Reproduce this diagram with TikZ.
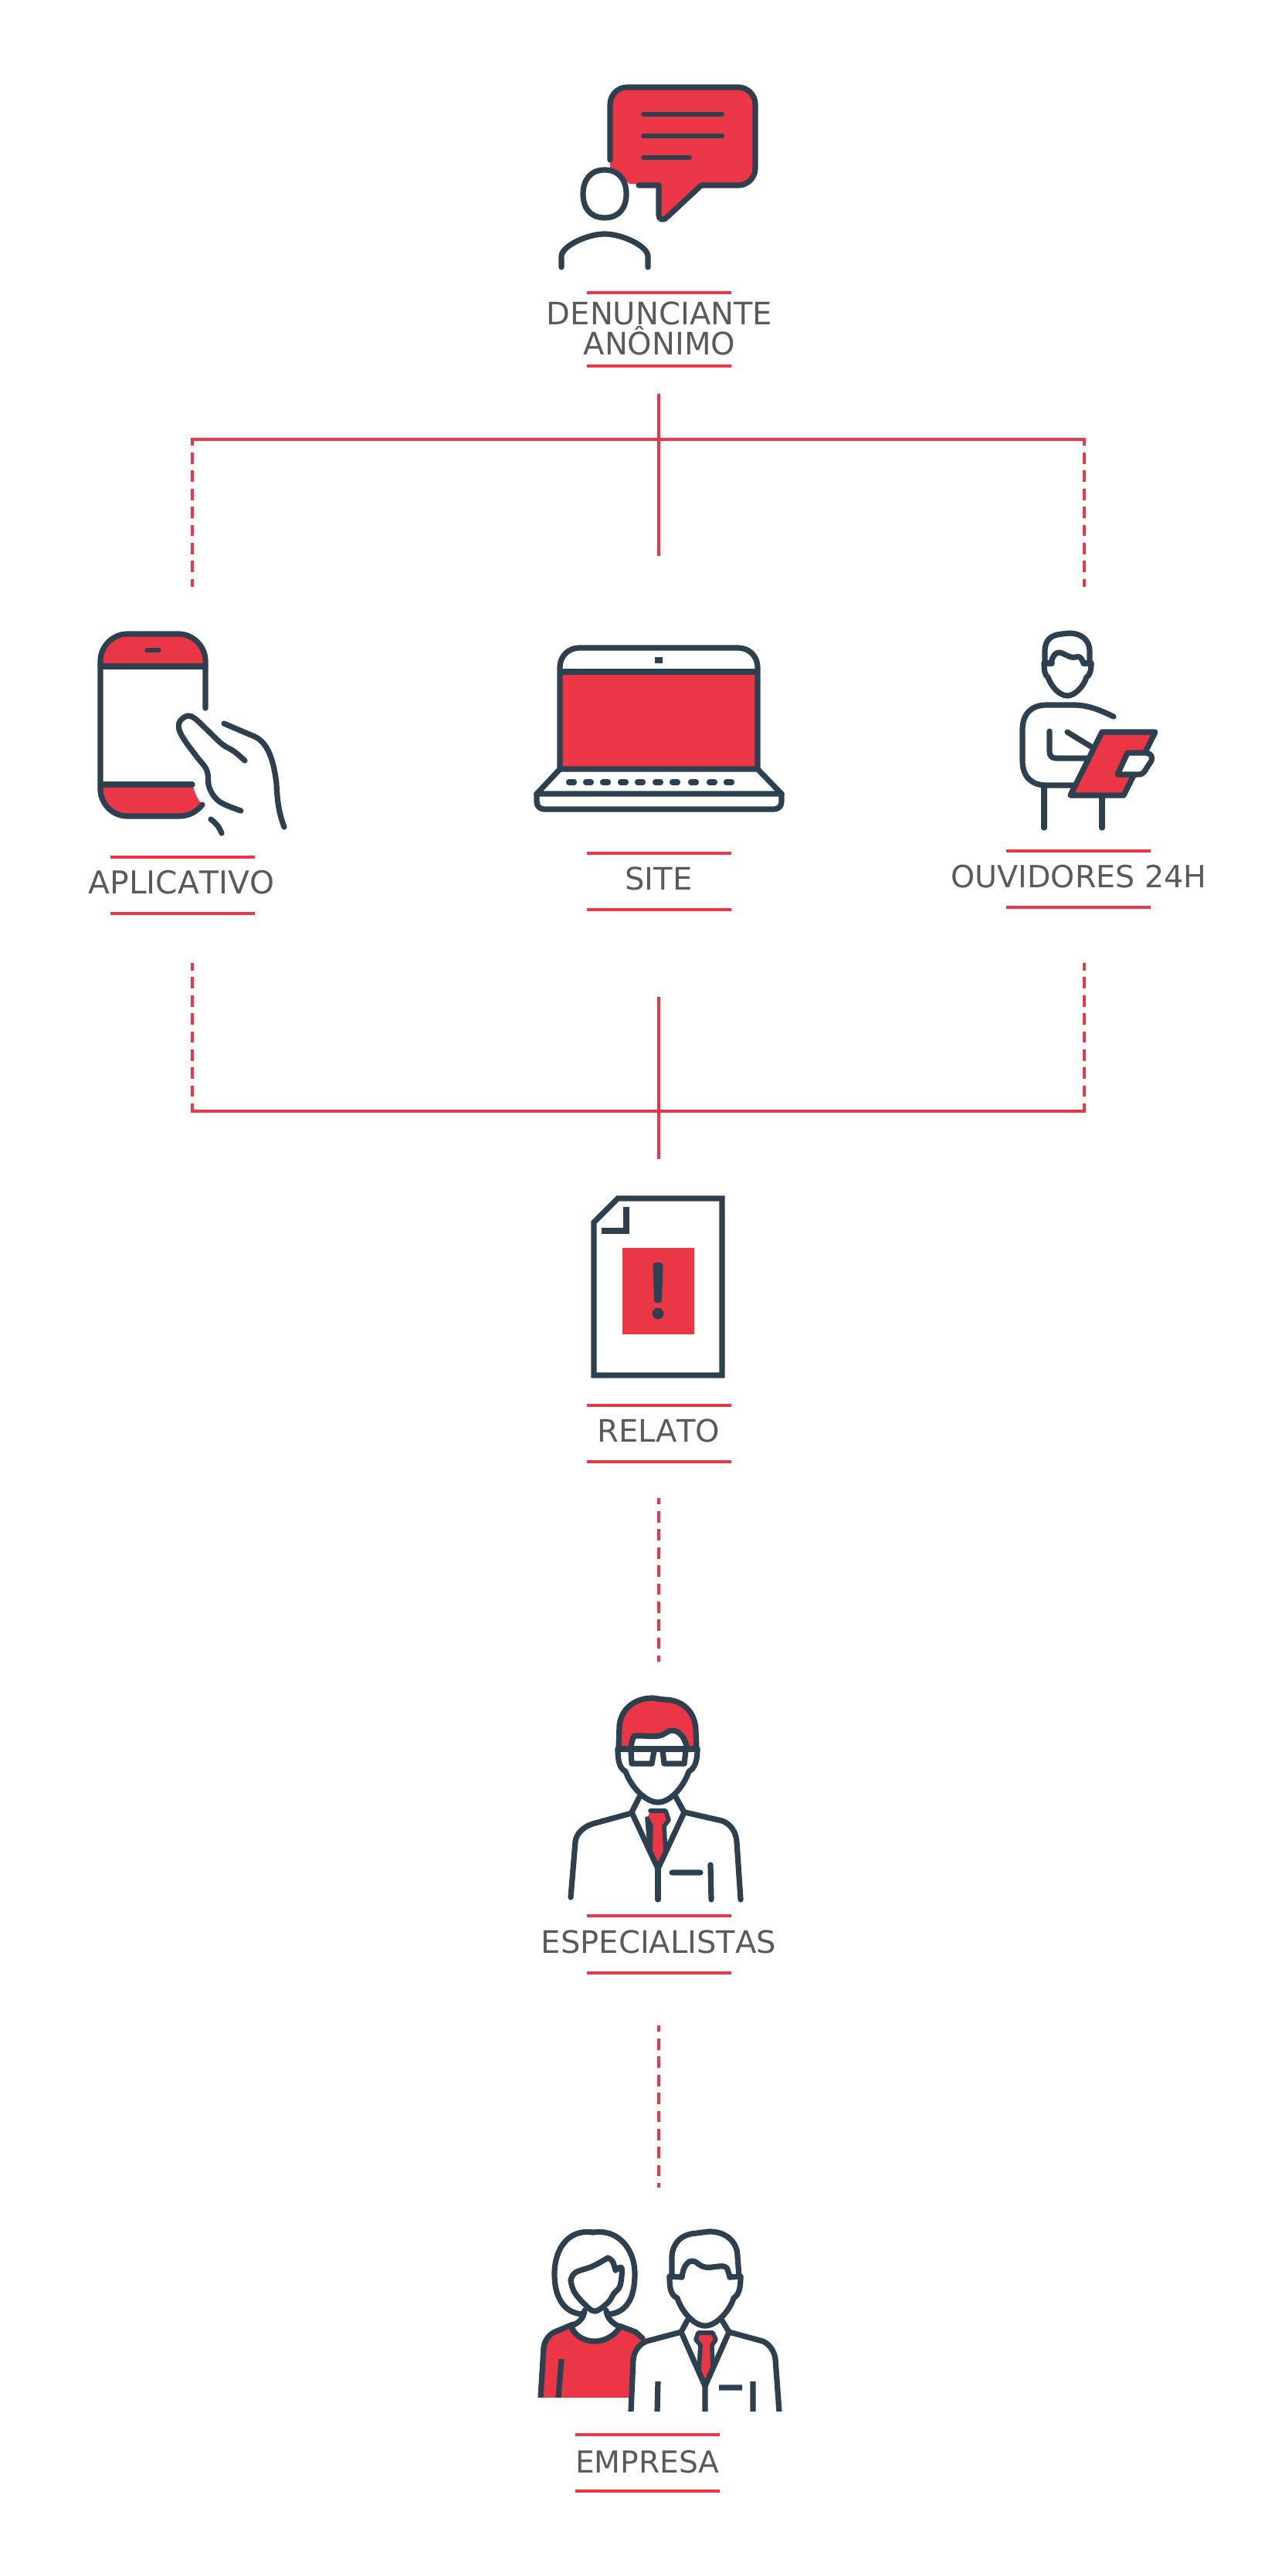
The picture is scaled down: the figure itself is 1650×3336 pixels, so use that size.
\documentclass[tikz,border=0pt]{standalone}
\usepackage{fontspec}
\setmainfont[Kerning=Off]{DejaVu Sans}
\usepackage{tikz}
\definecolor{IconRed}{RGB}{235,55,69}
\definecolor{IconNavy}{RGB}{45,64,80}
\definecolor{FontGray}{RGB}{90,90,90}
\tikzset{
    IconLine/.style={draw=IconNavy,line width=4.1pt,line cap=round,line join=round},
    IconFill/.style={fill=IconRed,draw=none},
    WhiteFill/.style={fill=white,draw=none},
    RuleLine/.style={draw=IconRed,line width=2.3pt},
    BusLine/.style={draw=IconRed,line width=2.3pt},
    BusDash/.style={draw=IconRed,line width=2.3pt,dash pattern=on 8.4pt off 4.9pt,dash phase=3.6pt},
    LabelText/.style={text=FontGray,font=\fontsize{22.8}{22.1}\selectfont,inner sep=0pt,anchor=base,align=center}
}

\begin{document}
\begin{tikzpicture}[x=0.02cm,y=-0.02cm]
    \useasboundingbox (0,0) rectangle (1650,3336);

    % labels
    \node[LabelText] (lblDenunciante) at (854,459) {DENUNCIANTE\\ANÔNIMO};
    \node[LabelText,font=\fontsize{23.2}{22.1}\selectfont] (lblAplicativo) at (235,1157) {APLICATIVO};
    \node[LabelText] (lblSite) at (853,1152) {SITE};
    \node[LabelText,font=\fontsize{22.5}{22.1}\selectfont] (lblOuvidores) at (1397,1149) {OUVIDORES 24H};
    \node[LabelText] (lblRelato) at (853,1867) {RELATO};
    \node[LabelText] (lblEspecialistas) at (853,2529) {ESPECIALISTAS};
    \node[LabelText,font=\fontsize{22.3}{22.1}\selectfont] (lblEmpresa) at (838,3202) {EMPRESA};

    \foreach \cx/\ya/\yb in {853/379/474,236/1110/1183,853/1105/1178,1396/1102/1175,853/1820/1893,853/2481/2555,838/3153/3226}
        \draw[RuleLine] (\cx-93.5,\ya) -- (\cx+93.5,\ya) (\cx-93.5,\yb) -- (\cx+93.5,\yb);

    % connectors
    \coordinate (topIn) at (853,510);
    \coordinate (topOut) at (853,720);
    \coordinate (topLeft) at (249,569);
    \coordinate (topRight) at (1404,569);
    \coordinate (appIn) at (249,760);
    \coordinate (ouvIn) at (1404,760);
    \coordinate (appOut) at (249,1247);
    \coordinate (ouvOut) at (1404,1247);
    \coordinate (lowLeft) at (249,1439);
    \coordinate (lowRight) at (1404,1439);
    \coordinate (siteOut) at (853,1291);
    \coordinate (relIn) at (853,1501);
    \coordinate (relOut) at (853,1940);
    \coordinate (espIn) at (853,2152);
    \coordinate (espOut) at (853,2623);
    \coordinate (empIn) at (853,2833);

    \draw[BusLine] (topIn) to (topOut);
    \draw[BusLine,line cap=rect] (topLeft) to (topRight);
    \draw[BusDash] (topLeft) to (appIn);
    \draw[BusDash] (topRight) to (ouvIn);
    \draw[BusDash,dash phase=2.8pt] (appOut) to (lowLeft);
    \draw[BusDash,dash phase=2.8pt] (ouvOut) to (lowRight);
    \draw[BusLine,line cap=rect] (lowLeft) to (lowRight);
    \draw[BusLine] (siteOut) to (relIn);
    \draw[BusDash] (relOut) to (espIn);
    \draw[BusDash] (espOut) to (empIn);

    % denunciante
    \fill[IconFill] (790,217) -- (790,135) .. controls (790,123) and (800,113) .. (812,113) -- (956,113) .. controls (968,113) and (978,123) .. (978,135) -- (978,218) .. controls (978,230) and (968,240) .. (956,240) -- (908,240) -- (858,285) -- (853,280) -- (853,240) -- (815,238) -- cycle;
    \draw[IconLine] (790,207) -- (790,135) .. controls (790,123) and (800,113) .. (812,113) -- (956,113) .. controls (968,113) and (978,123) .. (978,135) -- (978,218) .. controls (978,230) and (968,240) .. (956,240) -- (908,240) -- (864,281) .. controls (858,287) and (853,284) .. (853,278) -- (853,240) -- (827,240);
    \draw[IconLine,line width=3.4pt] (833,148) -- (935,148) (833,176) -- (935,176) (833,204) -- (893,204);
    \filldraw[IconLine,fill=white] (783,220) .. controls (764,220) and (755,234) .. (755,251) .. controls (755,269) and (764,282) .. (783,282) .. controls (802,282) and (811,269) .. (811,251) .. controls (811,234) and (802,220) .. (783,220) -- cycle;
    \draw[IconLine] (727,346) -- (727,332) .. controls (727,319) and (760,303) .. (783,303) .. controls (806,303) and (839,319) .. (839,332) -- (839,346);

    % aplicativo
    \fill[IconFill] (130,863) -- (130,856) .. controls (130,837) and (146,821) .. (165,821) -- (231,821) .. controls (250,821) and (266,837) .. (266,856) -- (266,863) -- cycle;
    \fill[IconFill] (130,1016) -- (130,1022) .. controls (130,1041) and (146,1057) .. (165,1057) -- (231,1057) .. controls (245,1057) and (255,1051) .. (262,1042) .. controls (255,1035) and (252,1025) .. (249,1016) -- cycle;
    \draw[IconLine] (266,917) -- (266,856) .. controls (266,837) and (250,821) .. (231,821) -- (165,821) .. controls (146,821) and (130,837) .. (130,856) -- (130,1022) .. controls (130,1041) and (146,1057) .. (165,1057) -- (231,1057) .. controls (245,1057) and (255,1051) .. (262,1042);
    \draw[IconLine] (130,863) -- (266,863) (130,1016) -- (249,1016);
    \draw[IconLine,line width=3pt] (190,842) -- (206,842);
    \draw[IconLine] plot[smooth,tension=0.6] coordinates {(317,985) (303,973) (288,964) (270,947) (253,931) (243,927) (233,934) (232,945) (240,960) (254,979) (268,998) (271,1020) (284,1038) (312,1050)};
    \draw[IconLine] (290,937) -- (330,954) .. controls (345,961) and (354,980) .. (358,1015) .. controls (359,1040) and (362,1055) .. (368,1071);
    \draw[IconLine] (273,1061) .. controls (279,1065) and (284,1071) .. (287,1079);

    % site
    \fill[IconFill] (725,870) rectangle (981,996);
    \draw[IconLine,line cap=butt] (725,996) -- (725,864) .. controls (725,850) and (736,839) .. (750,839) -- (956,839) .. controls (970,839) and (981,850) .. (981,864) -- (981,996) -- cycle;
    \draw[IconLine,line cap=butt] (725,870) -- (981,870);
    \fill[IconNavy] (848,851) rectangle (858,859);
    \draw[IconLine] (725,996) -- (695,1028) -- (1012,1028) -- (981,996);
    \draw[IconLine] (695,1028) -- (695,1038) .. controls (695,1044) and (699,1048) .. (705,1048) -- (1002,1048) .. controls (1008,1048) and (1012,1044) .. (1012,1038) -- (1012,1028);
    \foreach \kx in {740,762,784,807,829,852,874,898,922,944}
        \draw[IconLine] (\kx-3.5,1013) -- (\kx+3.5,1013);

    % ouvidores
    \draw[IconLine] (1353,858) -- (1353,843) .. controls (1353,828) and (1362,822) .. (1375,821) -- (1385,820) .. controls (1400,820) and (1411,829) .. (1411,843) -- (1411,858);
    \draw[IconLine] plot[smooth,tension=0.7] coordinates {(1362,859) (1363,852) (1371,845) (1387,851) (1398,851) (1403,859)};
    \draw[IconLine] (1352,859) -- (1362,859) (1403,859) -- (1413,859);
    \draw[IconLine] (1352,859) .. controls (1352,868) and (1353,875) .. (1357,877) .. controls (1361,889) and (1372,901) .. (1382,901) .. controls (1392,901) and (1403,889) .. (1407,877) .. controls (1411,875) and (1413,868) .. (1413,859);
    \draw[IconLine] (1442,928) .. controls (1425,920) and (1410,913) .. (1390,913) -- (1355,913) .. controls (1335,913) and (1324,925) .. (1324,945) -- (1324,985) .. controls (1324,1005) and (1335,1017) .. (1355,1017) -- (1390,1017);
    \draw[IconLine] (1352,1017) -- (1352,1072) (1427,1030) -- (1427,1072);
    \draw[IconLine] (1359,947) -- (1359,973) .. controls (1359,979) and (1362,982) .. (1368,982) -- (1410,982) (1382,948) -- (1413,967);
    \filldraw[IconLine,fill=IconRed] (1427,948) -- (1496,948) -- (1455,1030) -- (1386,1030) -- cycle;
    \filldraw[IconLine,fill=white] (1460,975) -- (1483,975) .. controls (1490,975) and (1493,980) .. (1491,985) -- (1482,999) .. controls (1480,1002) and (1477,1003) .. (1473,1003) -- (1447,1003) -- cycle;

    % relato
    \draw[IconLine,line cap=butt,line join=miter] (769,1583) -- (800,1552) -- (935,1552) -- (935,1781) -- (769,1781) -- cycle;
    \draw[IconLine,line cap=butt,line join=miter] (811,1563) -- (811,1594) -- (779,1594);
    \fill[IconFill] (806,1616) rectangle (899,1728);
    \fill[IconNavy] (845.5,1639) .. controls (845.5,1637) and (847,1635) .. (849,1635) -- (855,1635) .. controls (857,1635) and (858.5,1637) .. (858.5,1639) -- (857,1684) .. controls (857,1686) and (856,1687) .. (854,1687) -- (850,1687) .. controls (848,1687) and (847,1686) .. (847,1684) -- cycle;
    \fill[IconNavy] (852,1701) circle (7.4);

    % especialistas
    \fill[IconFill] (801,2265) -- (802,2235) .. controls (804,2213) and (822,2199) .. (845,2199) -- (860,2201) .. controls (885,2201) and (900,2218) .. (901,2240) -- (902,2265) -- plot[smooth,tension=0.7] coordinates {(890,2264) (883,2248) (870,2241) (853,2248) (827,2248) (820,2250) (817,2264)} -- cycle;
    \draw[IconLine] (801,2265) -- (802,2235) .. controls (804,2213) and (822,2199) .. (845,2199) -- (860,2201) .. controls (885,2201) and (900,2218) .. (901,2240) -- (902,2265);
    \draw[IconLine] plot[smooth,tension=0.7] coordinates {(817,2264) (820,2250) (827,2248) (853,2248) (870,2241) (883,2248) (890,2264)};
    \draw[IconLine] (800,2265) -- (903,2265);
    \draw[IconLine] (817,2267) -- (818,2284) -- (844,2284) -- (847,2267) (858,2267) -- (860,2284) -- (886,2284) -- (888,2267);
    \draw[IconLine] (800,2265) .. controls (800,2280) and (802,2290) .. (810,2294) .. controls (816,2312) and (835,2334) .. (852,2334) .. controls (869,2334) and (886,2312) .. (892,2294) .. controls (900,2290) and (903,2280) .. (903,2265);
    \fill[IconFill] (842,2345) -- (862,2345) -- (866,2357) -- (860,2365) -- (862,2400) -- (852,2415) -- (842,2400) -- (843,2365) -- (838,2355) -- cycle;
    \draw[IconLine] (828,2327) -- (818,2347) -- (852,2420) -- (886,2347) -- (875,2327);
    \draw[IconLine] (852,2420) -- (852,2460);
    \draw[IconLine,line width=3.2pt] (842,2345) -- (862,2345) -- (866,2357) -- (860,2365) -- (862,2400) (842,2400) -- (843,2365) -- (838,2355) -- cycle;
    \draw[IconLine] (818,2348) -- (767,2362) .. controls (755,2366) and (746,2375) .. (745,2385) -- (739,2457);
    \draw[IconLine] (887,2347) -- (935,2358) .. controls (946,2362) and (953,2372) .. (954,2385) -- (959,2460);
    \draw[IconLine] (870,2425) -- (907,2425) (920,2415) -- (921,2460);

    % empresa
    \fill[IconFill] (702,3105) -- (707,3033) .. controls (710,3026) and (713,3022) .. (720,3019) -- (742,3010) -- (753,3028) -- (770,3032) -- (788,3028) -- (802,3012) -- (823,3020) -- (840,3036) -- (815,3105) -- cycle;
    \draw[IconLine] (754,2997) .. controls (730,2995) and (718,2975) .. (718,2945) .. controls (718,2910) and (738,2886) .. (768,2891) .. controls (798,2886) and (822,2910) .. (822,2945) .. controls (822,2975) and (812,2995) .. (788,2997);
    \draw[IconLine] plot[smooth,tension=0.6] coordinates {(739,2953) (745,2943) (767,2935) (787,2924)};
    \draw[IconLine] plot[smooth,tension=0.6] coordinates {(787,2924) (793,2928) (797,2940)};
    \draw[IconLine] plot[smooth,tension=0.6] coordinates {(797,2940) (805,2937) (803,2960) (795,2970) (787,2982) (770,2993) (755,2982) (743,2967) (739,2953)};
    \draw[IconLine] (757,2992) .. controls (756,3002) and (750,3008) .. (740,3012);
    \draw[IconLine] (785,2992) .. controls (786,3002) and (792,3008) .. (802,3013);
    \draw[IconLine] (740,3015) .. controls (746,3026) and (758,3032) .. (770,3032) .. controls (782,3032) and (794,3026) .. (802,3015);
    \draw[IconLine] (742,3010) -- (718,3020) .. controls (710,3024) and (705,3032) .. (704,3040);
    \draw[IconLine,line cap=butt] (704,3040) -- (700,3105) (727,3055) -- (723,3105);
    \draw[IconLine] (802,3012) -- (823,3020) -- (832,3028);

    \fill[WhiteFill] (882,3020) -- (837,3032) .. controls (827,3036) and (821,3046) .. (820,3055) -- (817,3123) -- (1009,3123) -- (1004,3055) .. controls (1003,3046) and (997,3036) .. (988,3032) -- (944,3020) -- (913,3000) -- cycle;
    \draw[IconLine] (870,2948) -- (870,2922) .. controls (871,2905) and (882,2893) .. (902,2892) -- (917,2890) .. controls (938,2889) and (955,2902) .. (955,2922) -- (957,2948);
    \draw[IconLine] plot[smooth,tension=0.7] coordinates {(883,2949) (887,2935) (897,2928) (913,2936) (937,2935) (943,2942) (945,2949)};
    \draw[IconLine] (867,2948) -- (883,2949) (945,2949) -- (959,2948);
    \draw[IconLine] (867,2948) .. controls (867,2962) and (868,2972) .. (877,2976) .. controls (882,2992) and (898,3012) .. (913,3012) .. controls (928,3012) and (945,2992) .. (950,2976) .. controls (957,2972) and (959,2962) .. (959,2948);
    \fill[IconFill] (904,3021) -- (923,3021) -- (927,3030) -- (922,3037) -- (923,3068) -- (913,3083) -- (905,3068) -- (907,3037) -- (901,3030) -- cycle;
    \draw[IconLine] (890,3005) -- (882,3020) -- (913,3090) -- (944,3020) -- (935,3005);
    \draw[IconLine,line width=3.2pt] (923,3068) -- (922,3037) -- (927,3030) -- (923,3021) -- (904,3021) -- (901,3030) -- (907,3037) -- (905,3068);
    \draw[IconLine] (882,3020) -- (837,3032) .. controls (827,3036) and (821,3046) .. (820,3055);
    \draw[IconLine] (944,3020) -- (988,3032) .. controls (997,3036) and (1003,3046) .. (1004,3055);
    \draw[IconLine,line cap=butt] (820,3055) -- (817,3123) (1004,3055) -- (1009,3123) (913,3090) -- (913,3123);
    \draw[IconLine,line cap=butt] (852,3084) -- (851,3123) (931,3092) -- (961,3092) (975,3084) -- (975,3123);

\end{tikzpicture}
\end{document}
